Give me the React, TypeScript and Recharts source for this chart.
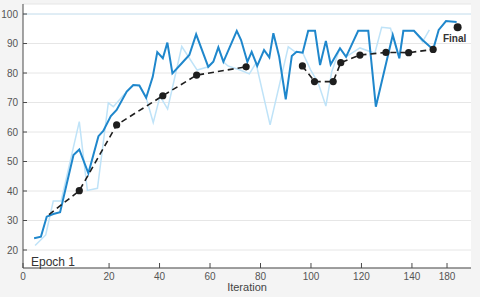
import React from "react";
import {
  LineChart,
  Line,
  XAxis,
  YAxis,
  CartesianGrid,
  ReferenceLine,
  ReferenceDot,
} from "recharts";

// Iteration axis: tick positions and the labels printed under them
const xTickValues = [-14.1, 20, 40, 60, 80, 100, 120, 140, 153.9];
const xTickLabels = ["0", "20", "40", "60", "80", "100", "120", "140", "180"];
const yTickValues = [20, 30, 40, 50, 60, 70, 80, 90, 100];

// Dark blue series
const mainIter = [
  -9.7, -7.0, -4.7, -2.1, 0.6, 5.9, 8.2, 11.8, 15.8, 17.7, 20.7, 23.0, 27.0, 29.6, 32.0,
  34.7, 37.3, 39.1, 41.3, 43.1, 45.1, 48.8, 51.8, 54.5, 59.3, 61.3, 63.3, 65.3, 70.6, 72.3,
  74.8, 76.5, 78.7, 81.4, 83.5, 85.1, 87.4, 90.0, 92.4, 94.3, 96.7, 98.9, 101.6, 103.6, 105.9,
  107.8, 111.5, 113.9, 118.7, 122.7, 125.7, 132.4, 135.0, 136.6, 140.8, 144.2, 148.4, 150.6,
  153.5, 157.7,
];
const mainAcc = [
  24.0, 24.5, 31.3, 32.2, 32.8, 52.2, 54.1, 46.0, 58.6, 60.4, 65.4, 67.5, 73.7, 75.9, 75.8,
  71.6, 78.7, 87.1, 85.0, 90.3, 79.9, 83.3, 86.1, 93.1, 82.1, 83.8, 88.7, 83.8, 94.3, 91.2,
  83.8, 87.2, 82.4, 87.8, 85.3, 93.5, 85.5, 71.1, 85.8, 87.2, 86.9, 94.3, 94.3, 82.7, 90.9,
  82.9, 88.4, 85.5, 94.3, 94.3, 68.6, 92.9, 85.0, 94.3, 94.3, 91.2, 88.0, 94.6, 97.6, 97.3,
];

// Light blue series
const rawIter = [
  -9.3, -5.1, -2.1, 1.0, 8.2, 11.4, 15.4, 19.7, 21.7, 27.0, 29.6, 32.0, 34.7, 37.5, 40.2,
  43.2, 48.8, 54.9, 59.3, 61.3, 63.3, 65.3, 67.1, 71.9, 75.6, 78.2, 83.8, 91.0, 93.7, 96.7,
  99.9, 102.9, 105.9, 108.2, 111.5, 113.9, 119.4, 125.3, 128.0, 131.5, 135.0, 136.6, 140.8,
  144.2, 146.9,
];
const rawAcc = [
  21.5, 25.1, 36.6, 36.6, 63.5, 40.2, 40.9, 69.9, 68.6, 73.7, 75.9, 75.8, 71.6, 63.2, 72.2,
  67.8, 89.0, 81.0, 82.1, 83.8, 88.7, 83.8, 82.4, 81.0, 79.7, 83.4, 62.4, 88.9, 87.2, 86.9,
  81.0, 76.5, 68.8, 80.4, 88.4, 85.5, 88.5, 86.7, 95.5, 95.2, 85.0, 94.3, 94.3, 90.6, 94.6,
];

// Dashed average (null = break in the line)
const avgIter = [-3.8, 8.2, 23.0, 41.3, 54.7, 74.3, 85, 96.6, 101.4, 108.8, 111.8, 119.4, 129.7, 138.7, 148.4];
const avgAcc = [32.0, 40.1, 62.4, 72.3, 79.3, 82.1, null, 82.4, 77.1, 77.1, 83.5, 86.1, 87.0, 86.9, 88.0];

const finalIter = 158.1;
const finalAcc = 95.5;

const toPoints = (xs: number[], ys: (number | null)[]) => xs.map((x, i) => ({ x, y: ys[i] }));

const mainData = toPoints(mainIter, mainAcc);
const rawData = toPoints(rawIter, rawAcc);
const avgData = toPoints(avgIter, avgAcc);

const AvgDot = (props: any) => {
  const { cx, cy, index, value } = props;
  if (index === 0 || value == null || cy == null) return <g key={`d${index}`} />;
  return <circle key={`d${index}`} cx={cx} cy={cy} r={3.6} fill="#1e1e1e" />;
};

export default function App() {
  return (
    <div
      style={{
        position: "absolute",
        left: 0,
        top: 0,
        width: 480,
        height: 297,
        background: "#f4f4f4",
        fontFamily: "'Liberation Sans', Arial, sans-serif",
      }}
    >
      <LineChart width={480} height={297} margin={{ top: 4, right: 9, bottom: 0, left: 0 }}>
        <CartesianGrid vertical={false} stroke="#e6e6e6" fill="#ffffff" />
        <XAxis
          dataKey="x"
          type="number"
          domain={[-14.1, 163.4]}
          allowDataOverflow
          ticks={xTickValues}
          interval={0}
          tickFormatter={(v: number) => xTickLabels[xTickValues.indexOf(v)]}
          height={29}
          tickSize={-5}
          tickMargin={10}
          stroke="#4a4a4a"
          tick={{ fill: "#555", fontSize: 10 }}
          label={{ value: "Iteration", position: "insideBottom", offset: 6, fill: "#444", fontSize: 11 }}
        />
        <YAxis
          type="number"
          domain={[13.9, 103.4]}
          allowDataOverflow
          ticks={yTickValues}
          interval={0}
          width={23}
          tickSize={-4}
          tickMargin={9}
          stroke="#4a4a4a"
          tick={{ fill: "#555", fontSize: 10 }}
        />
        <ReferenceLine y={100} stroke="#cde7f7" />
        <Line
          data={rawData}
          dataKey="y"
          type="linear"
          stroke="#bfe3f8"
          strokeWidth={1.5}
          dot={false}
          isAnimationActive={false}
        />
        <Line
          data={mainData}
          dataKey="y"
          type="linear"
          stroke="#1f87cc"
          strokeWidth={2}
          dot={false}
          isAnimationActive={false}
        />
        <Line
          data={avgData}
          dataKey="y"
          type="linear"
          stroke="#1e1e1e"
          strokeWidth={1.6}
          strokeDasharray="6 4"
          dot={AvgDot}
          activeDot={false}
          connectNulls={false}
          isAnimationActive={false}
        />
        <ReferenceDot
          x={finalIter}
          y={finalAcc}
          r={4}
          fill="#1e1e1e"
          stroke="none"
          label={{ value: "Final", position: "bottom", offset: 4, dx: -3, fill: "#333", fontSize: 10, fontWeight: 700 }}
        />
      </LineChart>
      <div
        style={{
          position: "absolute",
          left: 31,
          top: 255,
          fontSize: 12,
          color: "#333",
          lineHeight: "normal",
        }}
      >
        Epoch 1
      </div>
    </div>
  );
}
